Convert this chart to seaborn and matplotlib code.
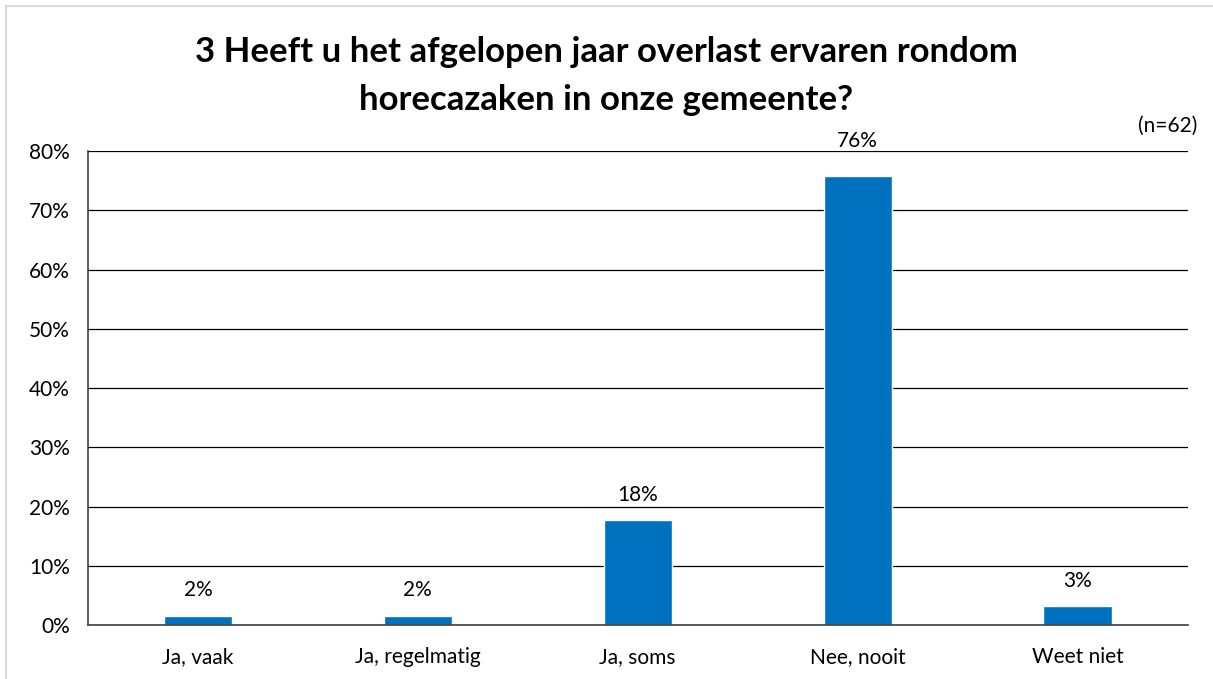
import pandas as pd
import seaborn as sns
import matplotlib.pyplot as plt
from matplotlib.patches import Rectangle

# Data (share of respondents, n=62)
categories = ['Ja, vaak', 'Ja, regelmatig', 'Ja, soms', 'Nee, nooit', 'Weet niet']
percentages = [1.6, 1.6, 17.7, 75.8, 3.2]
bar_labels = ['2%', '2%', '18%', '76%', '3%']
y_ticks = [0, 10, 20, 30, 40, 50, 60, 70, 80]

data = pd.DataFrame({'antwoord': categories, 'pct': percentages})

sns.set_theme(style='white')
plt.rcParams['font.family'] = ['Lato', 'DejaVu Sans']
plt.rcParams['text.color'] = 'black'
plt.rcParams['xtick.color'] = 'black'
plt.rcParams['ytick.color'] = 'black'

fig = plt.figure(figsize=(12.13, 6.79), dpi=100)
ax = fig.add_axes([0.0725, 0.0795, 0.9065, 0.698])

sns.barplot(x='antwoord', y='pct', data=data, color='#0070C0',
            width=0.31, saturation=1, ax=ax)

ax.set_ylim(0, 80)
ax.set_yticks(y_ticks)
ax.set_yticklabels([f'{t}%' for t in y_ticks], fontsize=15)
ax.tick_params(axis='x', labelsize=15, length=0, pad=16)
ax.tick_params(axis='y', length=0, pad=13)
ax.set_xlabel('')
ax.set_ylabel('')
ax.set_xlim(-0.5, len(categories) - 0.5)

ax.grid(axis='y', color='#000000', linewidth=0.9)
ax.set_axisbelow(True)
for side in ['top', 'right']:
    ax.spines[side].set_visible(False)
for side in ['left', 'bottom']:
    ax.spines[side].set_color('#404040')
    ax.spines[side].set_linewidth(1.2)

for i, (v, lab) in enumerate(zip(percentages, bar_labels)):
    # Excel pushes the top label clear of the plot border
    off = 18 if v > 70 else 11
    ax.annotate(lab, (i, v), xytext=(0, off), textcoords='offset points',
                ha='center', va='bottom', fontsize=15, annotation_clip=False)

fig.text(0.5, 0.923, '3 Heeft u het afgelopen jaar overlast ervaren rondom',
         ha='center', va='center', fontsize=25, fontweight='bold')
fig.text(0.5, 0.852, 'horecazaken in onze gemeente?',
         ha='center', va='center', fontsize=25, fontweight='bold')
fig.text(0.987, 0.815, '(n=62)', ha='right', va='center', fontsize=15)

# light frame around the chart
fig.patches.append(Rectangle((6 / 1213, -0.01), 1.1, 1 - 6 / 679 + 0.01,
                             transform=fig.transFigure, fill=False,
                             edgecolor='#D9D9D9', linewidth=1.5))

fig.savefig('out.png', dpi=100)
